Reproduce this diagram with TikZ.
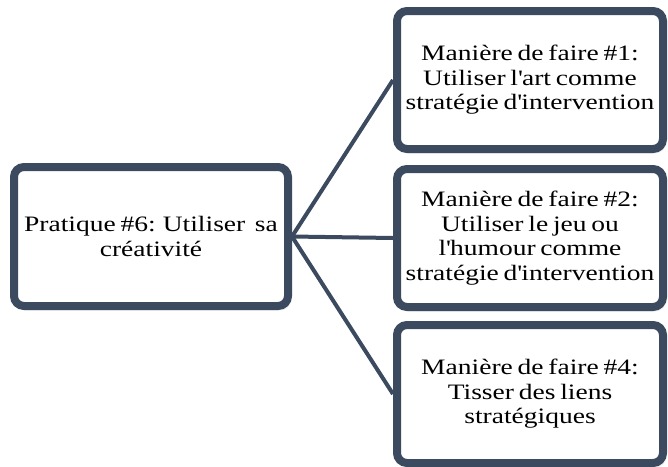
\documentclass[tikz,border=0pt]{standalone}
\usepackage{fontspec}
\setmainfont{Liberation Serif}[FakeStretch=1.25, WordSpace=0.7]
\usetikzlibrary{shadows.blur}
\definecolor{frame}{HTML}{3B4A5E}
\newcommand{\apos}{\textquotesingle}

\begin{document}
\begin{tikzpicture}[x=1pt,y=-1pt,
  box/.style={draw=frame, line width=8pt, rounded corners=10pt, fill=white,
    minimum width=266pt, minimum height=138pt, align=center, inner sep=0pt,
    font=\fontsize{22}{24.5}\selectfont,
    blur shadow={shadow xshift=2pt, shadow yshift=-3pt, shadow blur steps=6, shadow opacity=35}},
  link/.style={draw=frame, line width=4pt}]
\useasboundingbox (0,0) rectangle (668,466);

% practice on the left
\node[box, minimum width=274pt, minimum height=139pt] (p) at (151,236.5)
  {Pratique \#6: Utiliser\ \ sa\\créativité};

% ways of doing it on the right
\node[box] (m1) at (530,80)  {Manière de faire \#1:\\Utiliser l\apos art comme\\stratégie d\apos intervention};
\node[box] (m2) at (530,238) {Manière de faire \#2:\\Utiliser le jeu ou\\l\apos humour comme\\stratégie d\apos intervention};
\node[box] (m4) at (530,394) {Manière de faire \#4:\\Tisser des liens\\stratégiques};

% connectors fanning out from the practice box
\draw[link] (p.east) -- (m1.west);
\draw[link] (p.east) -- (m2.west);
\draw[link] (p.east) -- (m4.west);
\end{tikzpicture}
\end{document}
